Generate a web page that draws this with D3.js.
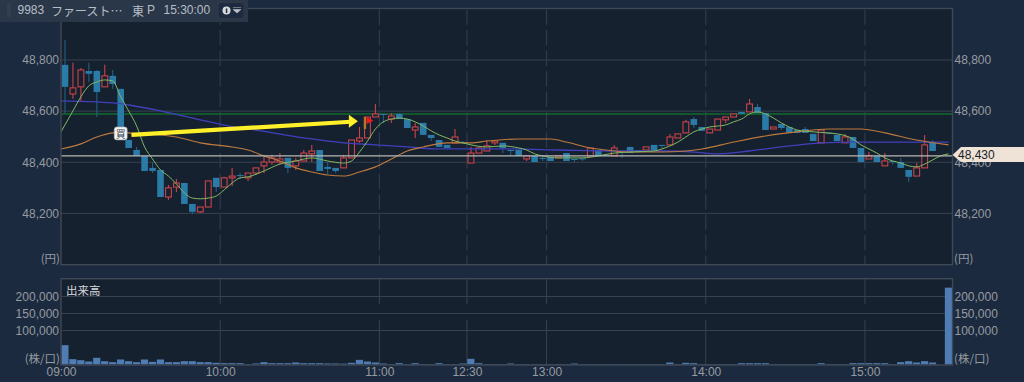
<!DOCTYPE html>
<html lang="ja"><head><meta charset="utf-8">
<script src="https://d3js.org/d3.v7.min.js"></script>
<style>
html,body{margin:0;padding:0;background:#1b2a3f;overflow:hidden}
svg{display:block}
text{font-family:"Liberation Sans",Arial,sans-serif}
.cjk{font-family:"Noto Sans CJK JP","Liberation Sans",sans-serif}
</style></head><body><div id="c"></div>
<script>
const priceTicks=[48200,48400,48600,48800];
const volumeTicks=[100000,150000,200000];
const timeTickIndex=[0,20,40,51,61,81,101];
const timeTickLabels=["09:00","10:00","11:00","12:30","13:00","14:00","15:00"];
const opens=[48781,48667,48695,48757,48757,48695,48738,48687,48487,48448,
48425,48378,48370,48264,48303,48319,48237,48206,48225,48339,
48303,48339,48350,48339,48358,48386,48401,48401,48417,48386,
48405,48433,48448,48382,48378,48378,48417,48483,48495,48577,
48589,48569,48589,48569,48526,48554,48507,48487,48468,48476,
48479,48397,48436,48444,48476,48476,48448,48448,48413,48425,
48417,48421,48417,48436,48413,48415,48425,48448,48429,48425,
48444,48460,48448,48448,48468,48468,48468,48495,48515,48569,
48538,48515,48526,48566,48577,48597,48597,48616,48593,48530,
48550,48538,48526,48530,48511,48476,48515,48507,48476,48499,
48456,48413,48425,48386,48405,48401,48370,48346,48378,48479];
const highs=[48879,48789,48769,48789,48761,48781,48761,48687,48487,48460,
48425,48401,48370,48311,48335,48319,48237,48225,48327,48339,
48343,48378,48358,48358,48378,48421,48429,48436,48417,48417,
48448,48468,48448,48401,48378,48429,48487,48538,48577,48628,
48589,48593,48593,48569,48554,48554,48507,48487,48468,48530,
48483,48460,48460,48487,48483,48476,48448,48448,48425,48425,
48425,48421,48425,48436,48413,48417,48456,48448,48429,48468,
48448,48460,48448,48460,48468,48468,48511,48511,48566,48577,
48538,48530,48569,48577,48589,48597,48648,48628,48593,48538,
48550,48538,48526,48538,48511,48526,48515,48507,48511,48499,
48456,48440,48425,48436,48405,48417,48370,48397,48507,48487];
const lows=[48593,48648,48636,48714,48577,48695,48687,48487,48456,48425,
48366,48358,48264,48253,48284,48237,48198,48202,48225,48284,
48303,48307,48335,48327,48350,48358,48390,48390,48358,48370,
48405,48401,48366,48354,48358,48378,48417,48476,48495,48577,
48554,48554,48569,48534,48495,48507,48483,48460,48456,48476,
48472,48397,48436,48444,48468,48436,48425,48425,48405,48401,
48405,48405,48417,48405,48401,48405,48425,48425,48425,48425,
48417,48436,48440,48448,48448,48452,48468,48495,48515,48534,
48523,48515,48526,48554,48577,48589,48597,48593,48526,48530,
48526,48515,48515,48515,48483,48476,48511,48483,48476,48456,
48401,48413,48401,48386,48390,48378,48323,48346,48378,48444];
const closes=[48695,48691,48761,48746,48675,48738,48706,48487,48456,48425,
48366,48366,48264,48300,48319,48237,48206,48225,48327,48303,
48339,48346,48346,48358,48378,48401,48417,48413,48378,48405,
48436,48444,48366,48374,48366,48417,48487,48495,48577,48589,
48585,48581,48569,48534,48538,48507,48495,48460,48456,48499,
48476,48436,48456,48464,48483,48456,48444,48425,48425,48401,
48415,48405,48425,48405,48409,48413,48456,48425,48425,48456,
48440,48436,48440,48460,48448,48464,48499,48511,48558,48546,
48523,48530,48569,48577,48589,48589,48628,48593,48526,48538,
48534,48515,48515,48515,48483,48526,48511,48483,48499,48456,
48401,48425,48401,48405,48401,48378,48343,48378,48468,48444];
const volumes=[57000,15700,12700,8800,19600,9800,6900,14700,9800,6900,
14700,7800,14700,6900,6900,9800,9800,6900,6900,4900,
3900,3900,3900,1500,3000,6900,3900,3900,3900,6000,
3900,3900,3900,3000,3000,2500,4900,13700,8800,5900,
2900,1500,3900,1500,3900,1500,1500,3900,1500,1500,
2900,16700,3900,1500,1500,1500,2900,1500,1500,1500,
1500,1500,1500,1500,2900,1500,1500,1500,1500,1500,
1500,1500,1500,1500,1500,1500,5900,1500,5000,3900,
1500,1500,1500,1500,1500,3900,3900,3900,3900,1500,
1500,1500,1500,1500,1500,3900,1500,1500,1500,3900,
3900,3900,3900,3900,1500,6900,9800,5900,9800,5900,0,226000];
const greenIndex=[-0.5,1,2,3,4,5,6,7,8,9,10,11,12,13,14,15,16,17,18,19,20,21,22,23,25,27,29,31,33,35,36,37,38,39,40,41,42,43,44,45,46,47,48,49,50,51,53,55,57,58,59,60,62,65,67,69,71,74,75,76,77,78,79,80,81,83,84,85,86,87,88,89,90,91,92,94,97,99,100,101,102,103,104,105,106,107,108,109,110,111];
const greenValues=[48519,48601,48656,48699,48714,48722,48718,48656,48601,48542,48460,48413,48370,48346,48315,48280,48260,48257,48260,48268,48292,48319,48339,48343,48366,48393,48405,48417,48405,48397,48405,48440,48483,48530,48558,48569,48573,48569,48558,48542,48523,48507,48495,48483,48476,48468,48460,48464,48456,48448,48433,48425,48417,48417,48425,48436,48440,48444,48452,48464,48479,48499,48519,48530,48538,48546,48558,48569,48589,48597,48589,48573,48554,48538,48526,48519,48511,48491,48468,48452,48436,48417,48405,48397,48386,48382,48393,48409,48425,48433];
const orangeIndex=[-0.5,2,4,6,7,8,14,17,21,23,25,27,29,31,33,35,37,39,41,43,45,48,51,53,57,61,63,66,68,71,75,78,80,84,88,92,96,100,103,107,111];
const orangeValues=[48452,48472,48499,48515,48517,48515,48499,48476,48460,48448,48425,48405,48378,48362,48350,48346,48362,48382,48413,48444,48460,48476,48476,48483,48491,48491,48479,48456,48448,48440,48440,48444,48452,48479,48503,48519,48530,48530,48515,48487,48468];
const blueIndex=[-0.5,6,8,12,17,22,24,30,35,39,43,47,51,56,62,69,75,79,82,86,90,95,99,105,111];
const blueValues=[48640,48632,48624,48601,48566,48534,48526,48495,48476,48468,48460,48452,48452,48452,48448,48444,48444,48440,48433,48444,48460,48476,48479,48479,48479];
const supportLevel=48589;
const closeLine=48425;
const lastLabel="48,430";
const arrowFrom={index:8.85,price:48507};
const arrowTo={index:37.3,price:48560};
const buySignal={index:7,price:48513,label:"買"};
const flagSignal={index:38,price:48577};

const W=1024,H=382,L=61,R=952.5;
const C={outer:"#1b2a3f",plot:"#16212f",border:"#3f4856",grid:"#38424e",vgrid:"#2f3a4a",axis:"#979ba0",
 up:"#c9434a",down:"#2b7ba8",downWick:"#235f85",green:"#80b962",orange:"#bd7a3e",blue:"#4040bc",level:"#136a2c",close:"#b8b8b4",vol:"#4f7db3"};
const x=d3.scaleLinear().domain([0,112]).range([L,R]);
const y=d3.scaleLinear().domain([48200,48800]).range([213.4,60]);
const yv=d3.scaleLinear().domain([0,200000]).range([364.5,296.5]);
const svg=d3.select("#c").append("svg").attr("width",W).attr("height",H).attr("viewBox",`0 0 ${W} ${H}`);
svg.append("rect").attr("width",W).attr("height",H).attr("fill",C.outer);

const panels=[[8.5,264.7],[278.7,365]];
svg.selectAll(".pbg").data(panels).join("rect").attr("x",L).attr("y",d=>d[0]).attr("width",R-L).attr("height",d=>d[1]-d[0]).attr("fill",C.plot);

// grids
const g=svg.append("g");
g.selectAll(".hp").data(priceTicks).join("line").attr("x1",L).attr("x2",R).attr("y1",d=>y(d)).attr("y2",d=>y(d)).attr("stroke",C.grid).attr("stroke-width",1);
g.selectAll(".hv").data(volumeTicks).join("line").attr("x1",L).attr("x2",R).attr("y1",d=>yv(d)).attr("y2",d=>yv(d)).attr("stroke",C.grid).attr("stroke-width",1);
g.selectAll(".vp").data(timeTickIndex.slice(1)).join("line").attr("x1",d=>x(d)).attr("x2",d=>x(d)).attr("y1",9.5).attr("y2",264).attr("stroke",C.vgrid).attr("stroke-width",1.2).attr("stroke-dasharray","15.5,5");
g.selectAll(".vv").data(timeTickIndex.slice(1)).join("line").attr("x1",d=>x(d)).attr("x2",d=>x(d)).attr("y1",279).attr("y2",365).attr("stroke",C.grid).attr("stroke-width",1).attr("stroke-dasharray","25,16,60");

// volume
svg.append("g").selectAll("rect").data(volumes).join("rect")
 .attr("x",(d,i)=>x(i)+0.3).attr("width",7.2).attr("y",d=>yv(d)).attr("height",d=>yv(0)-yv(d)).attr("fill",C.vol);

// level lines under candles
svg.append("line").attr("x1",L).attr("x2",R).attr("y1",y(supportLevel)).attr("y2",y(supportLevel)).attr("stroke",C.level).attr("stroke-width",1.6);

// candles
const cg=svg.append("g");
opens.forEach((o,i)=>{
 const c=closes[i],up=c>=o,cx=x(i+0.5),top=y(Math.max(o,c)),bot=y(Math.min(o,c));
 const col=up?C.up:C.down;
 cg.append("line").attr("x1",cx).attr("x2",cx).attr("y1",y(highs[i])).attr("y2",y(lows[i])).attr("stroke",up?C.up:C.downWick).attr("stroke-width",1.1);
 const r=cg.append("rect").attr("x",up?x(i)+1.1:x(i)+0.7).attr("width",up?5.8:6.6).attr("y",top).attr("height",Math.max(bot-top,1));
 if(up) r.attr("fill",C.plot).attr("stroke",col).attr("stroke-width",1.1);
 else r.attr("fill",col);
});

// moving averages
const lineGen=d3.line().x(d=>x(d[0]+0.5)).y(d=>y(d[1])).curve(d3.curveMonotoneX);
const drawMA=(idx,val,color,w)=>svg.append("path").datum(idx.map((k,i)=>[k,val[i]])).attr("d",lineGen).attr("fill","none").attr("stroke",color).attr("stroke-width",w);
drawMA(blueIndex,blueValues,C.blue,1.3);
drawMA(orangeIndex,orangeValues,C.orange,1.1);
drawMA(greenIndex,greenValues,C.green,1);

// last price line
svg.append("line").attr("x1",L).attr("x2",R).attr("y1",y(closeLine)).attr("y2",y(closeLine)).attr("stroke",C.close).attr("stroke-width",1.3);

// panel borders
svg.selectAll(".pb").data(panels).join("rect").attr("x",L).attr("y",d=>d[0]).attr("width",R-L).attr("height",d=>d[1]-d[0]).attr("fill","none").attr("stroke",C.border).attr("stroke-width",1.4);

// axes
function styleAxis(sel,size=12){sel.select(".domain").remove();sel.selectAll("text").attr("fill",C.axis).style("font-size",size+"px").style("font-family",'"Liberation Sans",Arial,sans-serif');}
const fmt=d3.format(",");
svg.append("g").attr("transform",`translate(${L+1},0)`).call(d3.axisLeft(y).tickValues(priceTicks).tickFormat(fmt).tickSize(0).tickPadding(3)).call(styleAxis);
svg.append("g").attr("transform",`translate(${R},0)`).call(d3.axisRight(y).tickValues(priceTicks).tickFormat(fmt).tickSize(0).tickPadding(2)).call(styleAxis);
svg.append("g").attr("transform",`translate(${L+1},0)`).call(d3.axisLeft(yv).tickValues(volumeTicks).tickFormat(fmt).tickSize(0).tickPadding(3)).call(styleAxis);
svg.append("g").attr("transform",`translate(${R},0)`).call(d3.axisRight(yv).tickValues(volumeTicks).tickFormat(fmt).tickSize(0).tickPadding(2)).call(styleAxis);
svg.append("g").attr("transform",`translate(0,365)`).call(d3.axisBottom(x).tickValues(timeTickIndex).tickFormat((d,i)=>timeTickLabels[i]).tickSize(0).tickPadding(2)).call(styleAxis);

// unit labels
const unit=(t,xx,yy,anchor)=>svg.append("text").attr("class","cjk").attr("x",xx).attr("y",yy).attr("text-anchor",anchor).attr("dominant-baseline","central").attr("fill",C.axis).style("font-size","11.5px").text(t);
unit("(円)",60,258,"end");unit("(円)",954,258,"start");
unit("(株/口)",60,358,"end");unit("(株/口)",954,358,"start");
svg.append("text").attr("class","cjk").attr("x",66).attr("y",290).attr("dominant-baseline","central").attr("fill","#d6d8da").style("font-size","11.5px").text("出来高");

// yellow arrow
const ax0=x(arrowFrom.index),ay0=y(arrowFrom.price),ax1=x(arrowTo.index),ay1=y(arrowTo.price);
const ang=Math.atan2(ay1-ay0,ax1-ax0);
svg.append("line").attr("x1",ax0).attr("y1",ay0).attr("x2",ax1-7*Math.cos(ang)).attr("y2",ay1-7*Math.sin(ang)).attr("stroke","#fff02a").attr("stroke-width",4.2);
svg.append("path").attr("d",`M${ax1},${ay1}L${ax1-9},${ay1-6.5}L${ax1-9},${ay1+6.5}Z`).attr("fill","#fff02a");

// buy marker
const bx=x(buySignal.index+0.5),by=y(buySignal.price);
svg.append("rect").attr("x",bx-6.5).attr("y",by-6.5).attr("width",13).attr("height",13).attr("rx",2.5).attr("fill","#f4f4f4").attr("stroke","#9aa0a8").attr("stroke-width",0.6);
svg.append("text").attr("class","cjk").attr("x",bx).attr("y",by+0.5).attr("text-anchor","middle").attr("dominant-baseline","central").attr("fill","#333b45").style("font-size","10px").text(buySignal.label);

// flag marker
const fx=x(flagSignal.index),fy=y(flagSignal.price);
svg.append("rect").attr("x",fx+0.3).attr("y",fy).attr("width",2.4).attr("height",12).attr("fill","#b5752a");
svg.append("path").attr("d",`M${fx+3},${fy}L${fx+10},${fy+3.5}L${fx+3},${fy+7}Z`).attr("fill","#f01c1c");

// last price tag
const ty=155;
svg.append("path").attr("d",`M952.5,${ty}L961,${ty-8}L1024,${ty-8}L1024,${ty+7}L961,${ty+7}Z`).attr("fill","#eee3d6");
svg.append("text").attr("x",958).attr("y",ty).attr("dominant-baseline","central").attr("fill","#1a1e26").style("font-size","12px").text(lastLabel);

// header
svg.append("rect").attr("x",0).attr("y",0).attr("width",248).attr("height",22).attr("fill","#2a3749");
d3.range(0,7).forEach(k=>{[7.5,9.5].forEach(dx=>svg.append("rect").attr("x",dx).attr("y",3.5+k*2).attr("width",1).attr("height",1).attr("fill","#4a5566"));});
const hd=(t,xx,cls,sz)=>svg.append("text").attr("class",cls||null).attr("x",xx).attr("y",10).attr("dominant-baseline","central").attr("fill","#b7bdc5").style("font-size",(sz||12)+"px").text(t);
hd("9983",17.5);
hd("ファースト…",51,"cjk",12);
hd("東",132,"cjk",12);
hd("P",147);
hd("15:30:00",163.5);
svg.append("rect").attr("x",218).attr("y",2.5).attr("width",26).attr("height",16).attr("rx",3).attr("fill","#1d2a40").attr("stroke","#343a44").attr("stroke-width",1);
svg.append("circle").attr("cx",226.5).attr("cy",10.5).attr("r",4).attr("fill","#d8dadc");
svg.append("rect").attr("x",225.8).attr("y",8.5).attr("width",1.5).attr("height",4.5).attr("fill","#1d2a40");
svg.append("path").attr("d","M233,7.5h8M233,9.5L241,9.5L237,13Z").attr("fill","#c0c4c8").attr("stroke","#c0c4c8").attr("stroke-width",0.5);
</script></body></html>
